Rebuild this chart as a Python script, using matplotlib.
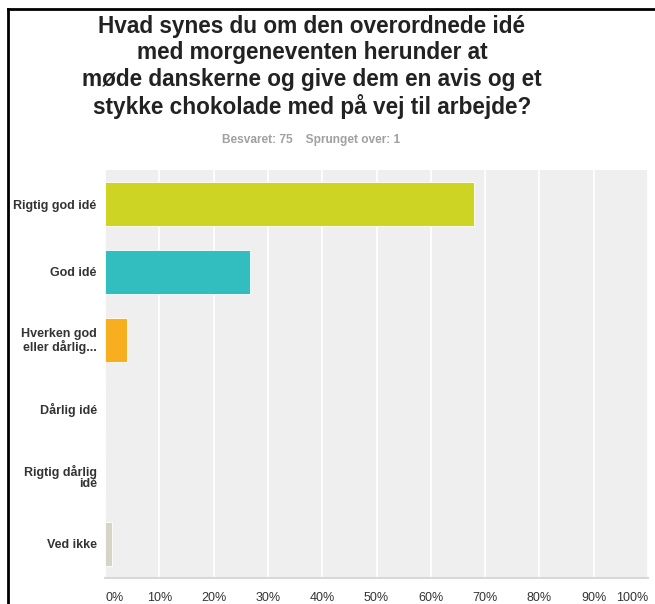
import matplotlib
matplotlib.use('Agg')
import matplotlib.pyplot as plt
from matplotlib.lines import Line2D

plt.rcParams['font.family'] = ['Liberation Sans', 'DejaVu Sans']

# svarmuligheder og andel (%) af 75 besvarelser
kategorier = ['Rigtig god idé', 'God idé', 'Hverken god\neller dårlig...',
              'Dårlig idé', 'Rigtig dårlig\nidé', 'Ved ikke']
procenter = [68.0, 26.67, 4.0, 0.0, 0.0, 1.33]
farver = ['#CDD424', '#32BDBE', '#F7AE1F', '#DAD8CB', '#DAD8CB', '#D6D4C7']
xticks = [0, 10, 20, 30, 40, 50, 60, 70, 80, 90, 100]
xticklabels = ['%d%%' % t for t in xticks]

titel = ('Hvad synes du om den overordnede idé\n'
         'med morgeneventen herunder at\n'
         'møde danskerne og give dem en avis og et\n'
         'stykke chokolade med på vej til arbejde?')
undertitel = 'Besvaret: 75    Sprunget over: 1'

fig = plt.figure(figsize=(6.55, 6.04), dpi=100)
ax = fig.add_axes([105/655, 1-578/604, 543/655, 408/604])

pos = list(range(len(kategorier)))
ax.barh(pos, procenter, height=0.66, color=farver, edgecolor='white',
        linewidth=0.6, zorder=3)

ax.set_xlim(0, 100)
ax.set_ylim(len(kategorier) - 0.5, -0.5)
ax.set_facecolor('#EFEFEF')
ax.set_xticks(xticks)
ax.set_xticklabels(xticklabels, fontsize=9, color='#333333')
labs = ax.get_xticklabels()
labs[0].set_ha('left')
labs[-1].set_ha('right')
ax.set_yticks(pos)
ax.set_yticklabels(kategorier, fontsize=9, fontweight='bold', color='#333333',
                   linespacing=0.95)
ax.tick_params(axis='both', length=0)
ax.tick_params(axis='y', pad=6)
ax.tick_params(axis='x', pad=10)
ax.grid(axis='x', color='white', linewidth=1.2, zorder=1)
for s in ['top', 'right', 'left']:
    ax.spines[s].set_visible(False)
ax.spines['bottom'].set_color('#D8D8D8')
ax.spines['bottom'].set_linewidth(1.5)

fig.text(312/655, 1-67/604, titel, ha='center', va='center', fontsize=16.3,
         fontweight='bold', color='#222222', linespacing=1.19)
fig.text(311/655, 1-140/604, undertitel, ha='center', va='center', fontsize=8.6,
         fontweight='bold', color='#A0A0A0')

# ramme øverst og til venstre
fig.add_artist(Line2D([8/655, 1], [1-9/604, 1-9/604], color='black', linewidth=2,
                      transform=fig.transFigure))
fig.add_artist(Line2D([8/655, 8/655], [0, 1-9/604], color='black', linewidth=2,
                      transform=fig.transFigure))

fig.savefig('out.png', dpi=100)
